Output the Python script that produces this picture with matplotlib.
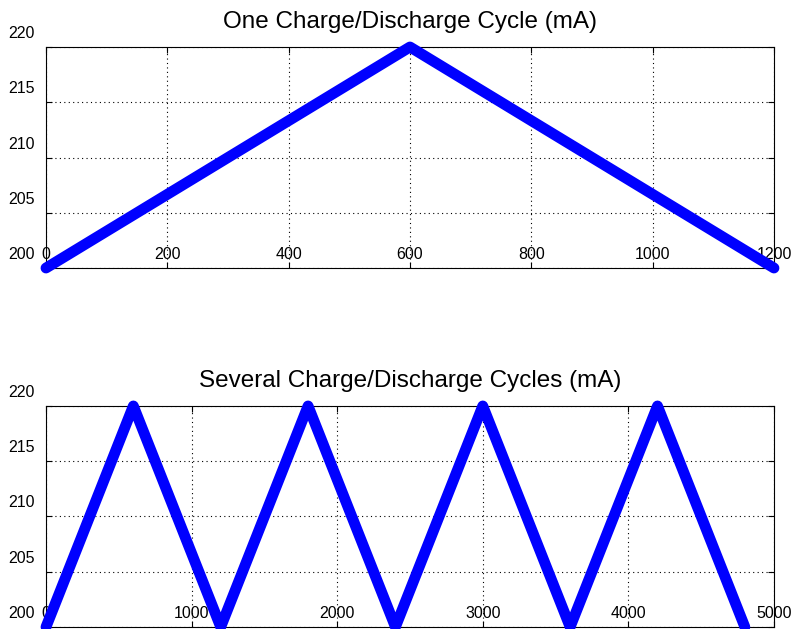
import matplotlib
matplotlib.use("Agg")
import matplotlib.pyplot as plt
from matplotlib.transforms import ScaledTranslation

plt.rcParams['font.family'] = ['Liberation Sans', 'DejaVu Sans']

# one cycle
t1 = [0, 600, 1200]
i1 = [200, 220, 200]
# several cycles
t2 = [0, 600, 1200, 1800, 2400, 3000, 3600, 4200, 4800]
i2 = [200, 220, 200, 220, 200, 220, 200, 220, 200]

x1ticks = [0, 200, 400, 600, 800, 1000, 1200]
x2ticks = [0, 1000, 2000, 3000, 4000, 5000]
yticks = [200, 205, 210, 215, 220]

fig = plt.figure(figsize=(7.93, 6.29), dpi=100)
ax1 = fig.add_axes([0.058, 0.5739, 0.918, 0.3514])
ax2 = fig.add_axes([0.058, 0.0032, 0.918, 0.3514])


def style(ax, t, i, xt, xmax, title):
    ax.plot(t, i, color='#0000ff', lw=7.8, solid_capstyle='round',
            solid_joinstyle='round', clip_on=False, zorder=3)
    ax.set_xlim(0, xmax)
    ax.set_ylim(200, 220)
    ax.set_xticks(xt)
    ax.set_yticks(yticks)
    ax.grid(True, color='black', linestyle=(0, (1, 3)), linewidth=0.8)
    ax.tick_params(direction='in', length=4, width=0.8, top=True, right=True,
                   labelsize=11.5)
    ax.tick_params(axis='x', pad=-4.3)
    ax.tick_params(axis='y', pad=8)
    for s in ax.spines.values():
        s.set_linewidth(0.8)
    for lab in ax.get_xticklabels():
        lab.set_va('bottom')
    up = ScaledTranslation(0, 0.06, fig.dpi_scale_trans)
    for lab in ax.get_yticklabels():
        lab.set_va('bottom')
        lab.set_transform(lab.get_transform() + up)
    ax.set_title(title, fontsize=17.5, pad=13.5)


style(ax1, t1, i1, x1ticks, 1200, 'One Charge/Discharge Cycle (mA)')
style(ax2, t2, i2, x2ticks, 5000, 'Several Charge/Discharge Cycles (mA)')

fig.savefig('out.png', dpi=100)
